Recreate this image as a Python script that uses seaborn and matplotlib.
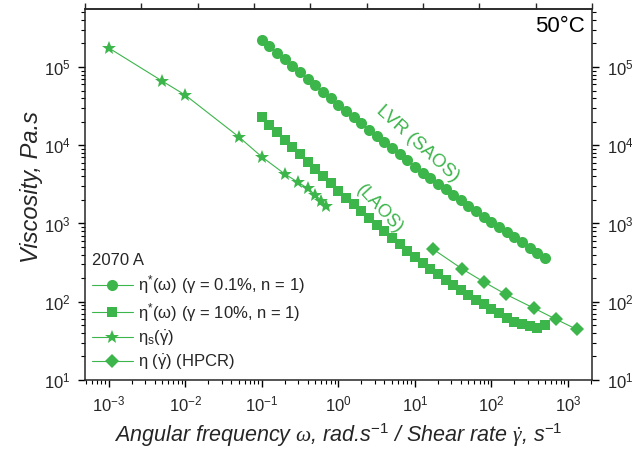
import numpy as np
import pandas as pd
import matplotlib
matplotlib.use("Agg")
import matplotlib.pyplot as plt
from matplotlib.lines import Line2D
import seaborn as sns

# ---- data -------------------------------------------------------------
# SAOS (LVR, gamma = 0.1 %), 10 points per decade from 0.1 rad/s
saos_w = [10 ** (-1 + k / 10) for k in range(38)]
saos_eta = [2.24e5, 1.85e5, 1.52e5, 1.26e5, 1.04e5, 8.57e4, 7.08e4, 5.85e4,
            4.83e4, 3.98e4, 3.28e4, 2.73e4, 2.28e4, 1.90e4, 1.58e4, 1.32e4,
            1.10e4, 9180, 7670, 6380, 5330, 4450, 3780, 3210, 2740, 2330,
            1980, 1680, 1430, 1220, 1047, 902, 774, 667, 573, 493, 424, 365]

# LAOS (gamma = 10 %)
laos_w = [10 ** (-1 + k / 10) for k in range(38)]
laos_eta = [2.26e4, 1.82e4, 1.47e4, 1.18e4, 9550, 7690, 6190, 5000, 4030,
            3250, 2610, 2140, 1750, 1430, 1175, 966, 794, 655, 540, 447,
            369, 309, 262, 224, 191, 164, 141, 122, 106, 92.3, 80.7, 70.8,
            62.5, 55.6, 51.9, 49.0, 45.7, 50.1]

# Steady shear (rotational)
steady_rate = [0.001, 0.005, 0.01, 0.05, 0.1, 0.2, 0.3, 0.4, 0.5, 0.6, 0.7]
steady_eta = [1.75e5, 6.6e4, 4.37e4, 1.28e4, 7100, 4280, 3350, 2800, 2310,
              1950, 1670]

# High-pressure capillary rheometer
hpcr_rate = [17.0, 41.1, 78.9, 153, 362, 690, 1297]
hpcr_eta = [475, 264, 180, 125, 82.4, 60.1, 44.4]

x_decades = [1e-3, 1e-2, 1e-1, 1e0, 1e1, 1e2, 1e3]
y_decades = [1e1, 1e2, 1e3, 1e4, 1e5]

legend_labels = [r"$\mathrm{\eta}^{*}$(ω) (γ = 0.1%, n = 1)",
                 r"$\mathrm{\eta}^{*}$(ω) (γ = 10%, n = 1)",
                 r"$\mathrm{\eta_{s}(\dot{\gamma})}$",
                 r"η ($\mathrm{\dot{\gamma}}$) (HPCR)"]
legend_title = "2070 A"
temperature = "50°C"

# ---- style ------------------------------------------------------------
sns.set_style("ticks")
plt.rcParams["font.family"] = ["Liberation Sans", "DejaVu Sans"]
plt.rcParams["mathtext.fontset"] = "custom"
plt.rcParams["mathtext.rm"] = "Liberation Sans"
plt.rcParams["mathtext.it"] = "Liberation Sans:italic"
plt.rcParams["mathtext.sf"] = "Liberation Serif:italic"
plt.rcParams["axes.unicode_minus"] = False
plt.rcParams["axes.linewidth"] = 1.1

green = "#3cb54b"

fig = plt.figure(figsize=(6.32, 4.59), dpi=100)
ax = fig.add_axes([85 / 632, 1 - 380 / 459, 507 / 632, 371 / 459])

series = [
    (saos_w, saos_eta, "o", 8.0),
    (laos_w, laos_eta, "s", 7.0),
    (steady_rate, steady_eta, "*", 10.0),
    (hpcr_rate, hpcr_eta, "D", 7.0),
]
for xs, ys, mk, ms in series:
    df = pd.DataFrame({"x": xs, "y": ys})
    sns.lineplot(data=df, x="x", y="y", ax=ax, color=green, linewidth=0.8,
                 marker=mk, markersize=ms, markeredgewidth=0,
                 estimator=None, sort=False)

ax.set_xscale("log")
ax.set_yscale("log")
ax.set_xlim(4.9e-4, 2060)
ax.set_ylim(10, 5.5e5)
ax.set_xticks(x_decades)
ax.set_yticks(y_decades)
ax.xaxis.set_minor_locator(matplotlib.ticker.LogLocator(
    base=10, subs=np.arange(2, 10), numticks=20))
ax.yaxis.set_minor_locator(matplotlib.ticker.LogLocator(
    base=10, subs=np.arange(2, 10), numticks=20))
ax.xaxis.set_minor_formatter(matplotlib.ticker.NullFormatter())
ax.yaxis.set_minor_formatter(matplotlib.ticker.NullFormatter())

ax.tick_params(axis="both", which="major", direction="out", length=5,
               width=1.0, labelsize=12, color="black", pad=5.5)
ax.tick_params(axis="both", which="minor", direction="out", length=3,
               width=0.8, color="black")
ax.tick_params(axis="y", which="both", right=True, labelright=True)

# evenly spaced marks on the top frame
lo, hi = np.log10(4.9e-4), np.log10(2060)
top = ax.secondary_xaxis(
    "top",
    functions=(lambda x: (np.log10(np.clip(x, 1e-12, None)) - lo) / (hi - lo) * 9,
               lambda t: 10 ** (lo + np.asarray(t) / 9 * (hi - lo))))
top.set_xticks(range(10))
top.set_xticklabels([])
top.tick_params(direction="out", length=4, width=1.0)
top.minorticks_off()

ax.set_xlabel(r"Angular frequency $\mathsf{\omega}$, rad.s$^{-1}$ / Shear rate "
              r"$\mathsf{\dot{\gamma}}$, s$^{-1}$",
              fontsize=15.5, style="italic", labelpad=5)
ax.set_ylabel("Viscosity, Pa.s", fontsize=17, style="italic")
ax.yaxis.set_label_coords(-0.082, 0.52)

ax.text(0.985, 0.982, temperature, transform=ax.transAxes, ha="right",
        va="top", fontsize=16, color="black")
ax.text(10.9, 1.03e4, "LVR (SAOS)", color=green, fontsize=13.5,
        rotation=-42, ha="center", va="center", rotation_mode="anchor")
ax.text(3.48, 1.53e3, "(LAOS)", color=green, fontsize=13,
        rotation=-47, ha="center", va="center", rotation_mode="anchor")

handles = [Line2D([], [], color=green, lw=0.8, marker=mk, markersize=ms,
                  markeredgewidth=0) for _, _, mk, ms in series]
leg = ax.legend(handles, legend_labels, title=legend_title, loc="upper left",
                bbox_to_anchor=(0.0, 0.36), frameon=False, fontsize=12,
                title_fontsize=12, handlelength=2.5, handletextpad=0.25,
                labelspacing=0.3, borderaxespad=0.2, borderpad=0.2)
leg._legend_box.align = "left"

fig.savefig("out.png", dpi=100)
